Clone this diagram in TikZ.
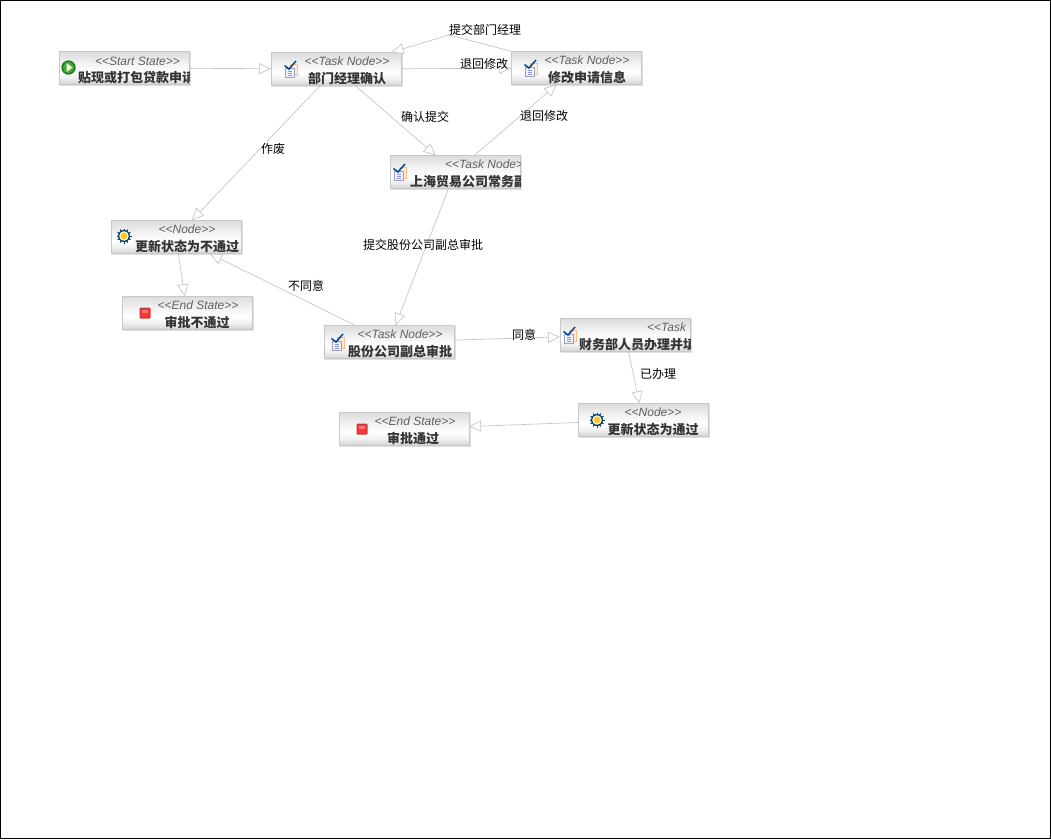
\documentclass[tikz,border=0pt]{standalone}
\usepackage{fontspec}
\setmainfont{Liberation Sans}
\newfontfamily\cjk{Noto Sans CJK SC}
\usetikzlibrary{arrows.meta,calc}
\definecolor{edgegray}{HTML}{C4C4C4}
\definecolor{boxline}{HTML}{C8C8C8}
\definecolor{boxshadow}{HTML}{E0E0E0}
\pgfdeclareverticalshading{wfshade}{100bp}{
  color(0bp)=(black!18); color(25bp)=(black!18); color(36bp)=(black!5);
  color(45bp)=(white); color(55bp)=(black!4); color(75bp)=(black!14); color(100bp)=(black!14)}
\newcommand\guil[1]{{<}{<}#1{>}{>}}
\tikzset{
  wfbox/.style={draw=boxline,line width=0.9pt,rectangle,inner sep=0pt,outer sep=0pt,minimum width=130pt,minimum height=33.5pt,
    shading=wfshade},
  stereo/.style={inner sep=0pt,font=\fontsize{12}{12}\selectfont\itshape,text=black!62},
  wfname/.style={inner sep=0pt,font=\cjk\bfseries\fontsize{13}{13}\selectfont,text=black!80},
  edgelabel/.style={inner sep=0pt,font=\cjk\fontsize{12}{13}\selectfont,text=black},
  flow/.style={draw=edgegray,line width=0.65pt,-{Triangle[open,length=12pt,width=11pt,fill=white]}},
}
% name, cx, cy, stereotype text, stereotype placement, label text, label placement
\newcommand\wfnode[7]{%
  \node[wfbox] (#1) at (#2-0.5,#3-0.5) {};
  \draw[boxshadow,line width=1pt] ($(#1.north east)+(1,1)$) -- ($(#1.south east)+(1,1)$) -- ($(#1.south west)+(1,1)$);
  \begin{scope}
    \clip (#1.south west) rectangle (#1.north east);
    \node[stereo,#5] (#1s) {#4};
    \node[wfname,#7] (#1n) {#6};
  \end{scope}}
\newcommand\taskicon[2]{%
  \begin{scope}[shift={(#1,#2)}]
    \filldraw[draw=orange!50!white,fill=orange!15,line width=0.6pt] (-1,-5) rectangle (6.5,6);
    \filldraw[draw=blue!30!gray!60!white,fill=blue!5,line width=0.6pt] (-5.5,-1) rectangle (3,8.5);
    \draw[blue!40!gray!60!white,line width=0.7pt] (-3.5,2)--(1,2) (-3.5,4)--(1,4) (-3.5,6)--(1,6);
    \draw[blue!35!teal!85!black,line width=1.5pt] (-6.5,-3.5) -- (-2,0) -- (5,-8);
  \end{scope}}
\newcommand\gearicon[2]{%
  \begin{scope}[shift={(#1,#2)}]
    \foreach \a in {0,30,...,330}{\draw[blue!35!teal!70!black,line width=1pt] (\a:5) -- (\a:7.5);}
    \fill[blue!35!teal!65!black] (0,0) circle (6);
    \fill[white!75!yellow] (0,0) circle (4.8);
    \fill[orange!55!yellow!80!white] (0,0) circle (3.4);
  \end{scope}}
\newcommand\stopicon[2]{%
  \fill[red!55!gray,rounded corners=1pt] (#1-5.5,#2-5.5) rectangle (#1+5.5,#2+5.5);
  \fill[red!80!white,rounded corners=0.5pt] (#1-4.2,#2-4.2) rectangle (#1+4.2,#2+4.2);
  \fill[red!55!white] (#1-3.2,#2-3.2) rectangle (#1+3.2,#2-0.5);}
\begin{document}
\begin{tikzpicture}[x=1pt,y=-1pt]
\useasboundingbox (0,0) rectangle (1051,839);
\fill[white] (0,0) rectangle (1051,839);
\draw[black,line width=1pt] (0.5,0.5) rectangle (1050.5,838.5);

\wfnode{start}{124.5}{68.5}{\guil{Start State}}{at={(137.5,61)}}{贴现或打包贷款申请}{anchor=west,at={(78,77.5)}}
\wfnode{mgr}{336.5}{69.5}{\guil{Task Node}}{at={(347,61.5)}}{部门经理确认}{at={(347,78.5)}}
\wfnode{edit}{576.5}{68.5}{\guil{Task Node}}{at={(587,60.5)}}{修改申请信息}{at={(587,77.5)}}
\wfnode{vp}{455.5}{172.5}{\guil{Task Node}}{anchor=west,at={(445,164.5)}}{上海贸易公司常务副总审批}{anchor=west,at={(410,181.5)}}
\wfnode{rej}{176.5}{237.5}{\guil{Node}}{at={(187,229.5)}}{更新状态为不通过}{at={(187,246.5)}}
\wfnode{endno}{187.5}{313.5}{\guil{End State}}{at={(198,305.5)}}{审批不通过}{at={(197,322.5)}}
\wfnode{gm}{389.5}{342.5}{\guil{Task Node}}{at={(400,334.5)}}{股份公司副总审批}{at={(400,351.5)}}
\wfnode{fin}{625.5}{335.5}{{<}{<}Task}{anchor=west,at={(647,327.5)}}{财务部人员办理并填写}{anchor=west,at={(579,344.5)}}
\wfnode{ok}{643.5}{420.5}{\guil{Node}}{at={(653,412.5)}}{更新状态为通过}{at={(653,429.5)}}
\wfnode{endok}{404.5}{429.5}{\guil{End State}}{at={(415,421.5)}}{审批通过}{at={(413,438.5)}}

% icons
\fill[green!40!black!85!white] (68.5,67.5) circle (7.2);
\fill[green!55!black!75!white] (68.5,67.5) circle (5.6);
\fill[yellow!15!white] (66.5,63) -- (72.5,67.5) -- (66.5,72) -- cycle;
\taskicon{291}{69}
\taskicon{531}{68}
\taskicon{400}{172}
\taskicon{338}{342}
\taskicon{570}{335}
\gearicon{124}{236}
\gearicon{597}{420}
\stopicon{145}{313}
\stopicon{362}{429}

% connectors
\coordinate (wp) at (449,35);
\draw[flow] (start) -- (mgr);
\draw[flow] (mgr) -- (edit);
\draw[flow] (edit) -- (wp) -- (mgr);
\draw[flow] (mgr) -- (vp);
\draw[flow] (vp) -- (edit);
\draw[flow] (mgr) -- (rej);
\draw[flow] (vp) -- (gm);
\draw[flow] (rej) -- (endno);
\draw[flow] (gm) -- (rej);
\draw[flow] (gm) -- (fin);
\draw[flow] (fin) -- (ok);
\draw[flow] (ok) -- (endok);

% labels
\node[edgelabel] (l1) at (485,30) {提交部门经理};
\node[edgelabel] (l2) at (484,64) {退回修改};
\node[edgelabel] (l3) at (425,116.5) {确认提交};
\node[edgelabel] (l4) at (544,115.5) {退回修改};
\node[edgelabel] (l5) at (273,148.5) {作废};
\node[edgelabel] (l6) at (423,244.5) {提交股份公司副总审批};
\node[edgelabel] (l7) at (306,285.5) {不同意};
\node[edgelabel] (l8) at (524,334.5) {同意};
\node[edgelabel] (l9) at (658,373.5) {已办理};
\end{tikzpicture}
\end{document}
